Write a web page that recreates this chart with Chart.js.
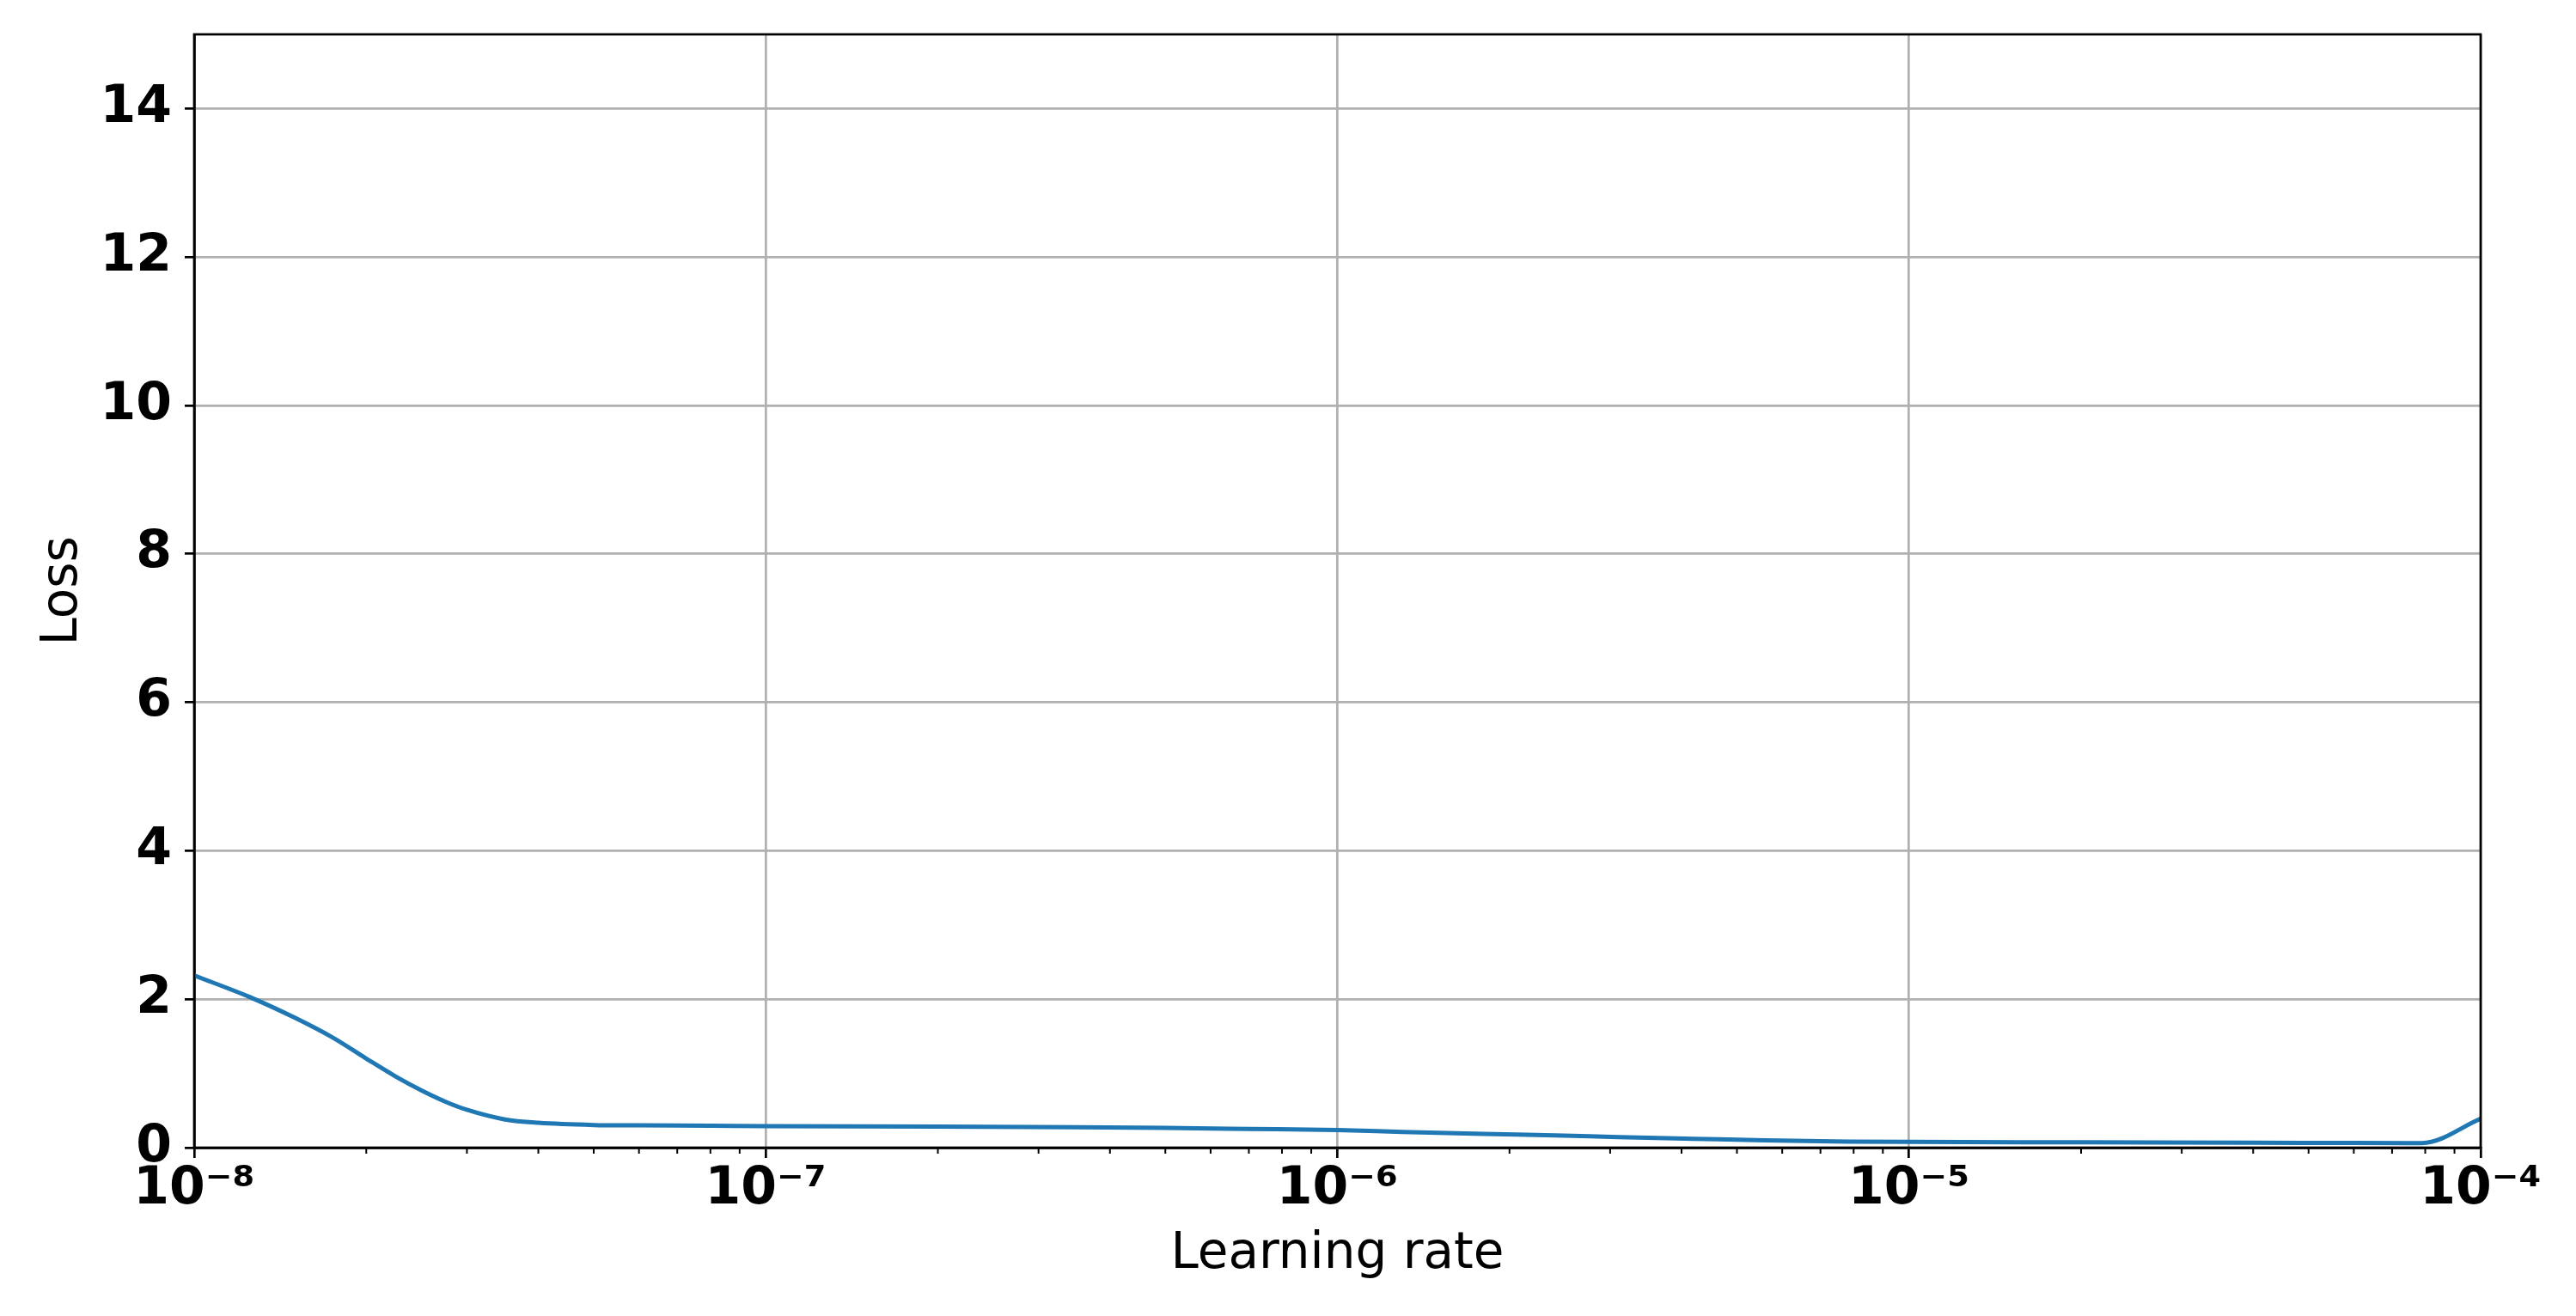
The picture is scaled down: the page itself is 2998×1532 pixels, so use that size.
<!DOCTYPE html>
<html lang="en">
<head>
<meta charset="UTF-8">
<title>Learning rate finder</title>
<script src="https://cdn.jsdelivr.net/npm/chart.js"></script>
<style>
  html, body { margin: 0; padding: 0; background: #fff; }
  #wrap { width: 2998px; height: 1532px; }
</style>
</head>
<body>
<div id="wrap"><canvas id="lrChart" width="2998" height="1532"></canvas></div>
<script>
// learning rate sweep (x) and loss (y)
const learningRates = [
  1e-8, 1.25e-8, 1.5e-8, 1.75e-8, 2e-8, 2.25e-8, 2.5e-8, 2.75e-8, 3e-8, 3.5e-8, 4e-8, 5e-8, 6e-8, 8e-8,
  1e-7, 2e-7, 3.5e-7, 5e-7, 7e-7,
  1e-6, 1.3e-6, 1.8e-6, 2.4e-6, 3.1e-6, 4.2e-6, 5.6e-6, 7.8e-6,
  1e-5, 2e-5, 4e-5, 6e-5, 7.9e-5, 1e-4
];
const losses = [
  2.32, 2.03, 1.75, 1.48, 1.20, 0.96, 0.77, 0.62, 0.51, 0.38, 0.335, 0.305, 0.30, 0.295,
  0.29, 0.285, 0.275, 0.265, 0.252,
  0.237, 0.212, 0.185, 0.166, 0.143, 0.12, 0.098, 0.082,
  0.077, 0.072, 0.066, 0.064, 0.062, 0.39
];

// axis ticks
const xDecades = [-8, -7, -6, -5, -4];
const xDecadeLabels = ['10⁻⁸', '10⁻⁷', '10⁻⁶', '10⁻⁵', '10⁻⁴'];
const xMinorSteps = [2, 3, 4, 5, 6, 7, 8, 9];
const yTickValues = [0, 2, 4, 6, 8, 10, 12, 14];

const FONT = "'DejaVu Sans', 'Liberation Sans', sans-serif";

// matplotlib-style box + short minor ticks on the log axis
const frameAndMinorTicks = {
  id: 'frameAndMinorTicks',
  afterDraw(chart) {
    const {ctx, chartArea: a, scales} = chart;
    const x = scales.x;
    ctx.save();
    ctx.strokeStyle = '#000';
    ctx.lineWidth = 2;
    x.ticks.forEach(t => {
      if (t.major) return;
      const px = x.getPixelForValue(t.value);
      ctx.beginPath();
      ctx.moveTo(px, a.bottom);
      ctx.lineTo(px, a.bottom + 7);
      ctx.stroke();
    });
    ctx.lineWidth = 2.7;
    ctx.strokeRect(a.left, a.top, a.right - a.left, a.bottom - a.top);
    ctx.restore();
  }
};

new Chart(document.getElementById('lrChart'), {
  type: 'line',
  data: {
    datasets: [{
      label: 'Loss',
      data: learningRates.map((lr, i) => ({x: lr, y: losses[i]})),
      borderColor: '#1f77b4',
      borderWidth: 5,
      pointRadius: 0,
      cubicInterpolationMode: 'monotone',
      fill: false
    }]
  },
  options: {
    responsive: false,
    animation: false,
    layout: { padding: { left: 0, top: 40, right: 111, bottom: 0 } },
    plugins: {
      legend: { display: false },
      tooltip: { enabled: false }
    },
    scales: {
      x: {
        type: 'logarithmic',
        min: 1e-8,
        max: 1e-4,
        afterBuildTicks(scale) {
          const ticks = [];
          xDecades.forEach((d, i) => {
            ticks.push({ value: Math.pow(10, d), major: true });
            if (i < xDecades.length - 1) {
              xMinorSteps.forEach(m => ticks.push({ value: m * Math.pow(10, d), major: false }));
            }
          });
          scale.ticks = ticks;
        },
        afterFit(scale) {
          scale.height = 196;
          scale.paddingLeft = 0;
          scale.paddingRight = 0;
        },
        ticks: {
          autoSkip: false,
          maxRotation: 0,
          padding: 1,
          color: '#000',
          font: { family: FONT, size: 60, weight: 'bold' },
          callback(value, index, ticks) {
            if (!ticks[index].major) return '';
            const k = xDecades.indexOf(Math.round(Math.log10(value)));
            return k >= 0 ? xDecadeLabels[k] : '';
          }
        },
        grid: {
          color: c => (c.tick && c.tick.major) ? '#b0b0b0' : 'rgba(0,0,0,0)',
          tickColor: c => (c.tick && c.tick.major) ? '#000' : 'rgba(0,0,0,0)',
          lineWidth: 2.7,
          tickWidth: 2.7,
          tickLength: 12
        },
        border: { display: true, color: '#000', width: 2.7 },
        title: {
          display: true,
          text: 'Learning rate',
          color: '#000',
          font: { family: FONT, size: 58 },
          padding: { top: 0, bottom: 36 }
        }
      },
      y: {
        type: 'linear',
        min: 0,
        max: 15,
        afterBuildTicks(scale) {
          scale.ticks = yTickValues.map(v => ({ value: v }));
        },
        afterFit(scale) {
          scale.width = 226;
          scale.paddingTop = 0;
          scale.paddingBottom = 0;
        },
        ticks: {
          padding: 15,
          color: '#000',
          font: { family: FONT, size: 60, weight: 'bold' }
        },
        grid: {
          color: '#b0b0b0',
          tickColor: '#000',
          lineWidth: 2.7,
          tickWidth: 2.7,
          tickLength: 11
        },
        border: { display: true, color: '#000', width: 2.7 },
        title: {
          display: true,
          text: 'Loss',
          color: '#000',
          font: { family: FONT, size: 58 },
          padding: { top: 39, bottom: 0 }
        }
      }
    }
  },
  plugins: [frameAndMinorTicks]
});
</script>
</body>
</html>
